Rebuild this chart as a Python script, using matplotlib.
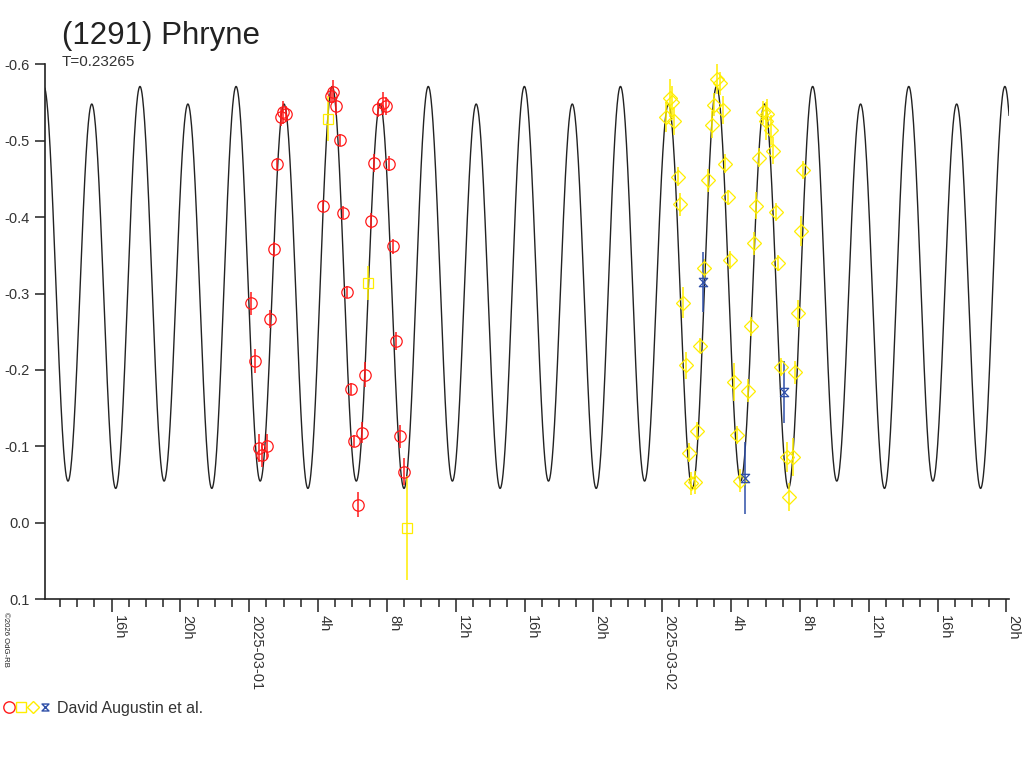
import numpy as np
import pandas as pd
import matplotlib
matplotlib.use('Agg')
import matplotlib.pyplot as plt
import matplotlib.dates as mdates
from matplotlib.lines import Line2D
from matplotlib.path import Path
from matplotlib.legend_handler import HandlerTuple

plt.rcParams['font.family'] = ['Liberation Sans', 'DejaVu Sans']

# model lightcurve (2 harmonics), period in days
period_d = 0.23265
epoch = '2025-02-28 17:39'
mean_mag = -0.3047
amp_2 = 0.2548
amp_1c = 0.0115
amp_1s = 0.0048

# observations: hours after 2025-03-01 00:00 UT, relative magnitude, error
red_h = [0.119, 0.351, 0.549, 0.758, 1.013, 1.205, 1.420, 1.629, 1.827, 1.978, 2.135,
         4.302, 4.750, 4.866, 5.040, 5.273, 5.464, 5.679, 5.894, 6.086, 6.318, 6.533,
         6.725, 7.074, 7.266, 7.481, 7.754, 7.945, 8.137, 8.335, 8.544, 8.759, 8.991]
red_mag = [-0.287, -0.212, -0.098, -0.089, -0.100, -0.267, -0.358, -0.470, -0.531, -0.537, -0.535,
           -0.415, -0.559, -0.564, -0.545, -0.501, -0.406, -0.302, -0.175, -0.107, -0.024, -0.118,
           -0.194, -0.395, -0.471, -0.541, -0.549, -0.545, -0.470, -0.362, -0.238, -0.113, -0.067]
red_err = [0.015, 0.016, 0.018, 0.016, 0.016, 0.012, 0.010, 0.008, 0.012, 0.015, 0.010,
           0.008, 0.010, 0.015, 0.012, 0.008, 0.008, 0.008, 0.008, 0.008, 0.016, 0.014,
           0.016, 0.010, 0.012, 0.010, 0.015, 0.012, 0.010, 0.010, 0.012, 0.015, 0.018]

sq_h = [4.558, 6.882, 9.183]
sq_mag = [-0.529, -0.314, 0.007]
sq_err = [0.029, 0.022, 0.068]

dia_h = [24.215, 24.447, 24.546, 24.697, 24.895, 25.028, 25.220, 25.377, 25.534, 25.650,
         25.900, 26.034, 26.191, 26.441, 26.673, 26.871, 27.004, 27.161, 27.353, 27.510,
         27.643, 27.800, 27.934, 28.166, 28.358, 28.515, 28.997, 29.136, 29.328, 29.444,
         29.636, 29.869, 30.066, 30.026, 30.316, 30.450, 30.607, 30.740, 30.897, 31.228,
         31.577, 31.379, 31.711, 31.867, 32.042, 32.158]
dia_mag = [-0.531, -0.556, -0.551, -0.526, -0.453, -0.417, -0.288, -0.206, -0.092, -0.052,
           -0.053, -0.120, -0.232, -0.333, -0.448, -0.521, -0.547, -0.581, -0.575, -0.540,
           -0.470, -0.426, -0.344, -0.184, -0.115, -0.055, -0.173, -0.257, -0.366, -0.415,
           -0.478, -0.537, -0.535, -0.526, -0.514, -0.487, -0.407, -0.340, -0.204, -0.086,
           -0.086, -0.034, -0.197, -0.274, -0.382, -0.462]
dia_err = [0.020, 0.025, 0.020, 0.018, 0.012, 0.015, 0.020, 0.018, 0.012, 0.015,
           0.015, 0.012, 0.010, 0.012, 0.015, 0.018, 0.015, 0.020, 0.015, 0.018,
           0.012, 0.010, 0.012, 0.025, 0.012, 0.015, 0.015, 0.012, 0.015, 0.018,
           0.012, 0.015, 0.020, 0.025, 0.020, 0.018, 0.012, 0.010, 0.012, 0.020,
           0.025, 0.018, 0.015, 0.018, 0.020, 0.012]

hg_h = [26.394, 28.806, 31.089]
hg_mag = [-0.315, -0.059, -0.171]
hg_err = [0.039, 0.047, 0.041]

x_start = '2025-02-28 12:08'
x_end = '2025-03-02 20:09'
y_ticks = [-0.6, -0.5, -0.4, -0.3, -0.2, -0.1, 0.0, 0.1]

base = pd.Timestamp('2025-03-01 00:00')


def to_time(hours):
    return [base + pd.Timedelta(hours=h) for h in hours]


fig = plt.figure(figsize=(10.24, 7.68), dpi=100)
ax = fig.add_axes([0.0439, 0.2197, 0.9415, 0.6966])

# model curve
t_grid = pd.date_range(x_start, x_end, periods=3000)
ph = 2 * np.pi * ((t_grid - pd.Timestamp(epoch)) / pd.Timedelta(days=period_d))
ph = np.asarray(ph, dtype=float)
model = mean_mag - amp_2 * np.cos(2 * ph) - amp_1c * np.cos(ph) - amp_1s * np.sin(ph)
ax.plot(t_grid, model, color='#222222', lw=1.0, zorder=2)

red = '#ff1a1a'
yellow = '#ffee00'
blue = '#2f4fa8'
hourglass = Path([(-1, 1), (1, 1), (-1, -1), (1, -1), (-1, 1)],
                 [Path.MOVETO, Path.LINETO, Path.LINETO, Path.LINETO, Path.CLOSEPOLY])

series = [
    (red_h, red_mag, red_err, red, 'o', 8.2),
    (sq_h, sq_mag, sq_err, yellow, 's', 7),
    (dia_h, dia_mag, dia_err, yellow, 'D', 7),
    (hg_h, hg_mag, hg_err, blue, hourglass, 6),
]
for h, m, e, c, mk, ms in series:
    tt = to_time(h)
    ax.errorbar(tt, m, yerr=e, fmt='none', ecolor=c, elinewidth=1.1, capsize=0, zorder=3)
    ax.plot(tt, m, ls='none', marker=mk, ms=ms, mfc='none', mec=c, mew=0.9, zorder=4)

ax.set_xlim(pd.Timestamp(x_start), pd.Timestamp(x_end))
ax.set_ylim(0.1, -0.6)
ax.set_yticks(y_ticks)
ax.set_yticklabels([f'{v:.1f}' for v in y_ticks])

ax.xaxis.set_major_locator(mdates.HourLocator(byhour=range(0, 24, 4)))
ax.xaxis.set_minor_locator(mdates.HourLocator())


def fmt_hour(x, pos):
    d = mdates.num2date(x)
    if d.hour == 0:
        return d.strftime('%Y-%m-%d')
    return f'{d.hour}h'


ax.xaxis.set_major_formatter(plt.FuncFormatter(fmt_hour))
for lab in ax.get_xticklabels():
    lab.set_rotation(270)
    lab.set_ha('left')
    lab.set_va('top')

for s in ['top', 'right']:
    ax.spines[s].set_visible(False)
for s in ['left', 'bottom']:
    ax.spines[s].set_color('#222222')
    ax.spines[s].set_linewidth(1.2)

ax.tick_params(axis='y', direction='out', length=7.2, width=1.1, color='#222222',
               labelsize=10.5, labelcolor='#333333', pad=4)
ax.tick_params(axis='x', which='major', direction='out', length=9.4, width=1.1,
               color='#222222', labelsize=10.5, labelcolor='#333333', pad=2)
ax.tick_params(axis='x', which='minor', direction='out', length=5.8, width=1.1, color='#222222')

fig.text(62 / 1024, 1 - 36 / 768, '(1291) Phryne', fontsize=22.5, color='#222222', va='center')
fig.text(62 / 1024, 1 - 62 / 768, 'T=0.23265', fontsize=11, color='#333333', va='center')
fig.text(5 / 1024, 1 - 612 / 768, '©2026 OdG-RB', fontsize=5.6, rotation=270,
         ha='center', va='top', color='#222222')

hnd = (Line2D([], [], ls='none', marker='o', ms=8.2, mfc='none', mec=red, mew=1.0),
       Line2D([], [], ls='none', marker='s', ms=6.5, mfc='none', mec=yellow, mew=1.0),
       Line2D([], [], ls='none', marker='D', ms=6.5, mfc='none', mec=yellow, mew=1.0),
       Line2D([], [], ls='none', marker=hourglass, ms=5, mfc='none', mec=blue, mew=1.0))
fig.legend([hnd], ['David Augustin et al.'], handler_map={tuple: HandlerTuple(ndivide=None, pad=0.0)},
           loc='center left', bbox_to_anchor=(3 / 1024, 1 - 708 / 768), frameon=False,
           handlelength=3.0, handletextpad=0.4, borderpad=0, borderaxespad=0,
           prop={'size': 11.5}, labelcolor='#333333')

fig.savefig('out.png', dpi=100)
